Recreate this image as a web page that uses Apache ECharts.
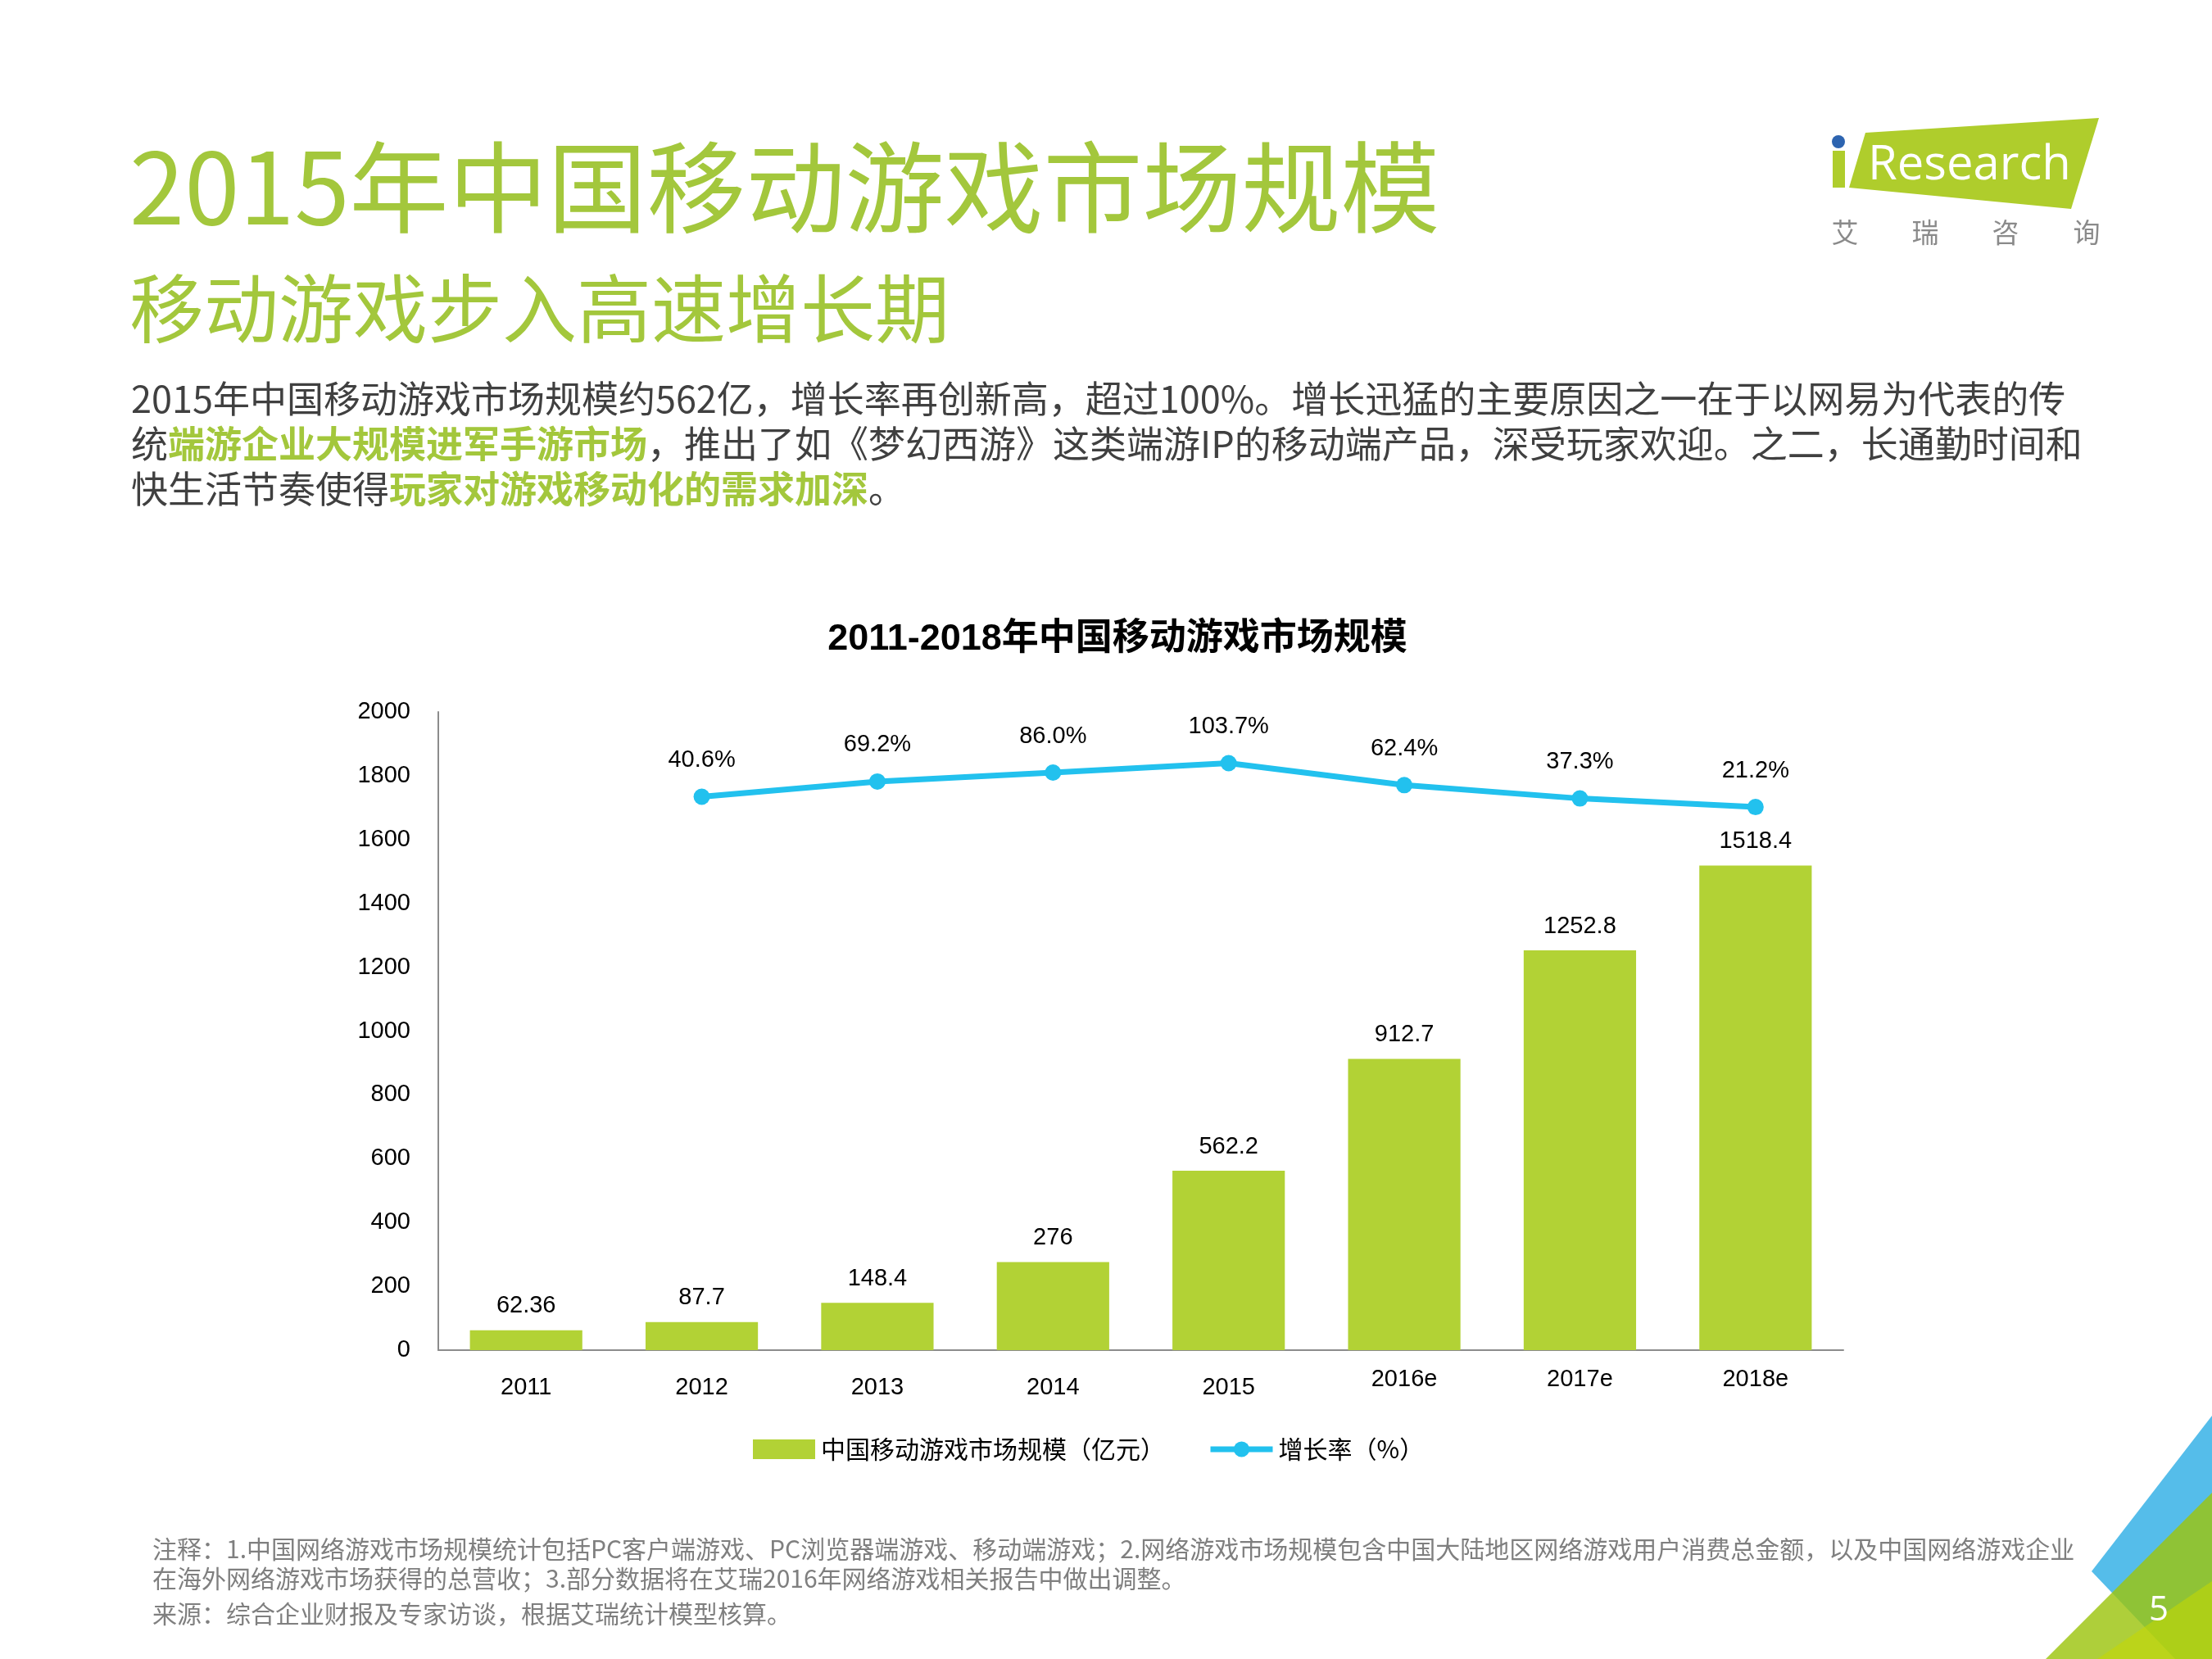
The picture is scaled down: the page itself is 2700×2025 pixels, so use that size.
<!DOCTYPE html>
<html>
<head>
<meta charset="utf-8">
<title>2015年中国移动游戏市场规模</title>
<script src="https://cdn.jsdelivr.net/npm/echarts@6/dist/echarts.min.js"></script>
<style>
  html, body { margin: 0; padding: 0; background: #fff; }
  #main { width: 2700px; height: 2025px; }
</style>
</head>
<body>
<div id="main"></div>
<script>
// chart data
var years = ['2011', '2012', '2013', '2014', '2015', '2016e', '2017e', '2018e'];
var marketSize = [62.36, 87.7, 148.4, 276, 562.2, 912.7, 1252.8, 1518.4];
var growthRate = [null, 40.6, 69.2, 86.0, 103.7, 62.4, 37.3, 21.2];
var sizeAxis = { min: 0, max: 2000, step: 200 };
var rateAxis = { min: -1000, max: 200 };

var seriesNames = ['中国移动游戏市场规模（亿元）', '增长率（%）'];

var GREEN = '#b2d235';
var CYAN = '#22c1ee';
var TITLE_GREEN = '#a3c73c';
var CJK = "'Noto Sans CJK SC', 'Noto Sans', sans-serif";
var ARIAL = "'Liberation Sans', 'Noto Sans CJK SC', sans-serif";

function txt(x, y, text, size, color, extra) {
    var style = {
        text: text,
        x: 0, y: 0,
        fontSize: size,
        fontFamily: CJK,
        fill: color,
        align: 'left', verticalAlign: 'middle',
        textAlign: 'left', textVerticalAlign: 'middle'
    };
    if (extra) {
        for (var k in extra) style[k] = extra[k];
    }
    return { type: 'text', x: x, y: y, silent: true, style: style };
}

var bodyRich = {
    g: { fill: TITLE_GREEN, fontWeight: 'bold', fontSize: 45, fontFamily: CJK }
};

var graphics = [
    // headings
    txt(158, 228, '2015年中国移动游戏市场规模', 121, TITLE_GREEN),
    txt(158, 376, '移动游戏步入高速增长期', 91, TITLE_GREEN),
    // paragraph
    txt(160, 487, '2015年中国移动游戏市场规模约562亿，增长率再创新高，超过100%。增长迅猛的主要原因之一在于以网易为代表的传', 45, '#404040'),
    txt(160, 542, '统{g|端游企业大规模进军手游市场}，推出了如《梦幻西游》这类端游IP的移动端产品，深受玩家欢迎。之二，长通勤时间和', 45, '#404040', { rich: bodyRich }),
    txt(160, 597, '快生活节奏使得{g|玩家对游戏移动化的需求加深}。', 45, '#404040', { rich: bodyRich }),
    // notes
    txt(186, 1891, '注释：1.中国网络游戏市场规模统计包括PC客户端游戏、PC浏览器端游戏、移动端游戏；2.网络游戏市场规模包含中国大陆地区网络游戏用户消费总金额，以及中国网络游戏企业', 30, '#7f7f7f'),
    txt(186, 1927, '在海外网络游戏市场获得的总营收；3.部分数据将在艾瑞2016年网络游戏相关报告中做出调整。', 30, '#7f7f7f'),
    txt(186, 1970, '来源：综合企业财报及专家访谈，根据艾瑞统计模型核算。', 30, '#7f7f7f'),
    // logo
    { type: 'polygon', silent: true, shape: { points: [[2277, 162], [2562, 144], [2528, 255], [2257, 229]] }, style: { fill: '#afcd2c' } },
    { type: 'rect', silent: true, shape: { x: 2237, y: 184, width: 15, height: 45 }, style: { fill: '#afcd2c' } },
    { type: 'circle', silent: true, shape: { cx: 2244, cy: 173, r: 8 }, style: { fill: '#2d64b0' } },
    txt(2280, 202, 'Research', 58, '#ffffff', { fontFamily: "'Open Sans', 'Noto Sans', sans-serif" }),
    txt(2252, 283, '艾', 33, '#8a8a8a', { align: 'center', textAlign: 'center' }),
    txt(2350, 283, '瑞', 33, '#8a8a8a', { align: 'center', textAlign: 'center' }),
    txt(2448, 283, '咨', 33, '#8a8a8a', { align: 'center', textAlign: 'center' }),
    txt(2547, 283, '询', 33, '#8a8a8a', { align: 'center', textAlign: 'center' }),
    // corner decoration
    { type: 'polygon', silent: true, shape: { points: [[2700, 1728], [2553, 1918], [2655, 2025], [2700, 2025]] }, style: { fill: '#55bdea' } },
    { type: 'polygon', silent: true, shape: { points: [[2497, 2025], [2700, 1822], [2700, 2025]] }, style: { fill: '#9cc50f', opacity: 0.82 } },
    { type: 'polygon', silent: true, shape: { points: [[2560, 2025], [2700, 1930], [2700, 2025]] }, style: { fill: '#c6d800', opacity: 0.55 } },
    txt(2635, 1966, '5', 42, '#ffffff', { align: 'center', textAlign: 'center', fontFamily: "'Open Sans', sans-serif" })
];

var chart = echarts.init(document.getElementById('main'));

var option = {
    backgroundColor: '#ffffff',
    animation: false,
    title: {
        text: '2011-2018年中国移动游戏市场规模',
        left: 1359,
        textAlign: 'center',
        top: 753,
        textStyle: { fontSize: 45, fontWeight: 'bold', color: '#000', fontFamily: ARIAL }
    },
    grid: {
        left: 535,
        right: 450,
        top: 869,
        bottom: 377,
        containLabel: false
    },
    legend: {
        left: 914,
        top: 1749,
        itemGap: 52,
        itemWidth: 76,
        itemHeight: 24,
        textStyle: { fontSize: 30, color: '#000', fontFamily: CJK, padding: [0, 0, 0, 2] },
        data: [
            { name: seriesNames[0], icon: 'rect' },
            { name: seriesNames[1], lineStyle: { width: 7, color: CYAN } }
        ]
    },
    xAxis: {
        type: 'category',
        data: years.map(function (y) {
            // the estimate labels sit a little higher in the source
            return y.indexOf('e') > 0 ? { value: y, textStyle: { lineHeight: 12 } } : y;
        }),
        axisLine: { lineStyle: { color: '#8c8c8c', width: 2 } },
        axisTick: { show: false },
        axisLabel: { fontSize: 29, color: '#000', fontFamily: ARIAL, margin: 30, lineHeight: 32 }
    },
    yAxis: [
        {
            type: 'value',
            min: sizeAxis.min,
            max: sizeAxis.max,
            interval: sizeAxis.step,
            axisLine: { show: true, lineStyle: { color: '#8c8c8c', width: 2 } },
            axisTick: { show: false },
            splitLine: { show: false },
            axisLabel: {
                fontSize: 29, color: '#000', fontFamily: ARIAL, margin: 34,
                formatter: function (v) { return String(v); }
            }
        },
        {
            type: 'value',
            min: rateAxis.min,
            max: rateAxis.max,
            show: false,
            splitLine: { show: false }
        }
    ],
    series: [
        {
            name: seriesNames[0],
            type: 'bar',
            data: marketSize,
            barCategoryGap: '36%',
            itemStyle: { color: GREEN },
            label: {
                show: true,
                position: 'top',
                distance: 15,
                fontSize: 29,
                color: '#000',
                fontFamily: ARIAL
            }
        },
        {
            name: seriesNames[1],
            type: 'line',
            yAxisIndex: 1,
            data: growthRate,
            symbol: 'circle',
            symbolSize: 20,
            lineStyle: { color: CYAN, width: 7 },
            itemStyle: { color: CYAN },
            label: {
                show: true,
                position: 'top',
                distance: 20,
                fontSize: 29,
                color: '#000',
                fontFamily: ARIAL,
                formatter: function (p) { return p.value.toFixed(1) + '%'; }
            }
        }
    ],
    graphic: graphics
};

chart.setOption(option);

window.addEventListener('resize', function () {
    chart.resize();
});
</script>
</body>
</html>
